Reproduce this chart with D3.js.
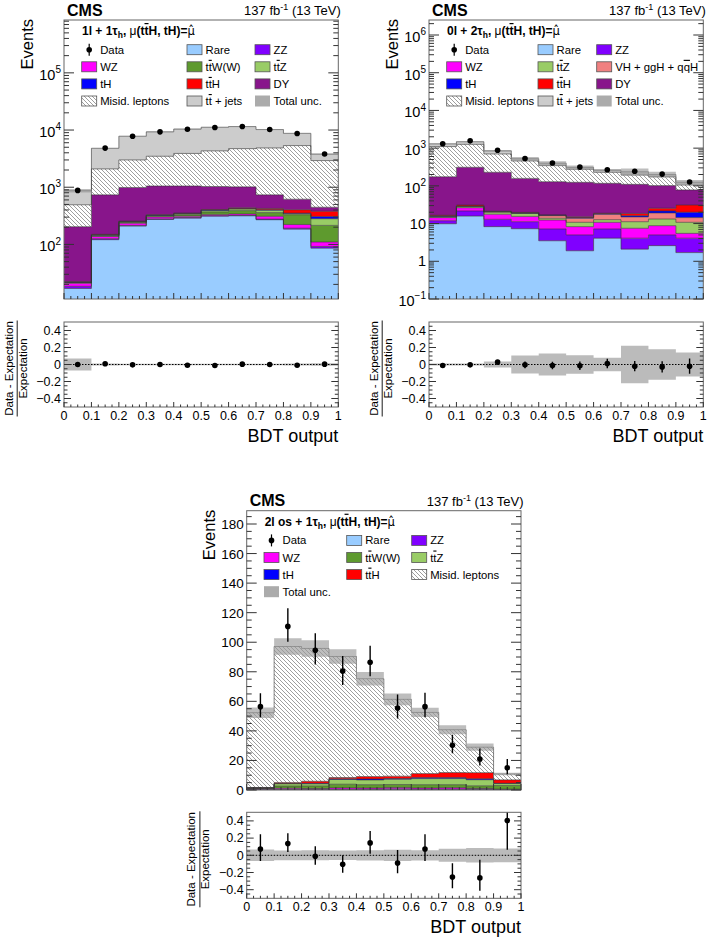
<!DOCTYPE html>
<html><head><meta charset="utf-8">
<script src="https://cdn.jsdelivr.net/npm/d3@7"></script>
<style>body{margin:0;background:#fff} text{font-family:"Liberation Sans",Arial,Helvetica,sans-serif}</style>
</head><body><svg id="c" width="709" height="939"></svg>
<script>
// ---------------- data ----------------
const binEdges = [0,0.1,0.2,0.3,0.4,0.5,0.6,0.7,0.8,0.9,1.0];
const xTickValues = [0,0.1,0.2,0.3,0.4,0.5,0.6,0.7,0.8,0.9,1];
const xTickLabels = ["0","0.1","0.2","0.3","0.4","0.5","0.6","0.7","0.8","0.9","1"];
const ratioTickValues = [-0.4,-0.2,0,0.2,0.4];
const ratioTickLabels = ["\u22120.4","\u22120.2","0","0.2","0.4"];
const linTickValuesC = [0,20,40,60,80,100,120,140,160,180];
const linTickLabelsC = ["0","20","40","60","80","100","120","140","160","180"];

// Panel A : 1l + 1tau_h
const a_rare   = [17, 121, 209, 273, 288, 312, 316, 270, 185, 86];
const a_zz     = [1.5, 5, 6, 7, 7, 6, 6, 7, 7, 6];
const a_wz     = [2.5, 12, 20, 20, 17, 17, 18, 33, 31, 18];
const a_ttw    = [0.5, 4, 8, 12, 18, 35, 50, 50, 107, 105];
const a_ttz    = [0.2, 3, 6, 8, 12, 22, 25, 35, 13, 66];
const a_th     = [0.3, 3, 3, 6, 6, 8, 10, 10, 9, 27];
const a_tth    = [0.2, 2, 3, 4, 4, 7, 12, 20, 51, 72];
const a_dy     = [182, 586, 735, 720, 698, 623, 579, 311, 214, 67];
const a_misid  = [289, 1354, 2010, 2430, 2850, 3290, 3714, 4124, 4733, 2478];
const a_ttjets = [377, 2710, 4800, 5820, 6500, 6880, 6770, 5340, 3400, 875];
const a_data   = [880, 4830, 7780, 9300, 10350, 11100, 11550, 10200, 8700, 3820];
const a_unc    = [0.07, 0.012, 0.01, 0.01, 0.01, 0.01, 0.01, 0.01, 0.012, 0.015];
const a_ratio  = [0, 0.008, -0.004, 0, -0.008, -0.012, 0.004, 0, -0.008, 0.004];
const a_ratioErr = [0.012, 0.006, 0.005, 0.004, 0.004, 0.004, 0.004, 0.004, 0.004, 0.008];

// Panel B : 0l + 2tau_h
const b_rare   = [9.9, 15.8, 8.3, 7.3, 3.5, 1.9, 4.1, 2.1, 2.6, 1.7];
const b_zz     = [2.0, 5.8, 4.7, 3.9, 3.7, 3.1, 3.1, 2.0, 2.4, 2.4];
const b_wz     = [2.5, 4.7, 4.7, 4.3, 5.2, 3.3, 3.6, 3.4, 3.8, 1.4];
const b_ttz    = [0.6, 1.7, 2.3, 3.1, 1.4, 2.5, 1.9, 3.7, 4.4, 5.3];
const b_vh     = [0.5, 0.6, 0.5, 0.3, 2.4, 3.0, 5.0, 3.8, 5.9, 3.6];
const b_th     = [0.5, 0.6, 0.5, 0.3, 0.5, 0.7, 0.5, 1.2, 2.5, 5.6];
const b_tth    = [0.6, 1.8, 0.2, 0.6, 0.2, 0.6, 0.6, 2.4, 3.9, 11];
const b_dy     = [158, 280, 208, 138, 112, 109, 98, 91, 76, 47];
const b_misid  = [925, 949, 471, 299, 215, 151, 112, 85, 74, 27];
const b_ttjets = [200, 220, 150, 68, 56, 35, 31, 42, 25, 20];
const b_data   = [1310, 1560, 880, 530, 405, 314, 268, 243, 205, 127];
const b_unc    = [0.012, 0.012, 0.035, 0.105, 0.13, 0.11, 0.08, 0.22, 0.18, 0.14];
const b_ratio  = [-0.012, -0.004, 0.028, -0.004, -0.012, -0.016, 0.012, -0.02, -0.028, -0.02];
const b_ratioErr = [0.008, 0.008, 0.015, 0.04, 0.045, 0.05, 0.055, 0.06, 0.065, 0.09];

// Panel C : 2l os + 1tau_h
const c_rare   = [0.3, 0.3, 0.3, 0.3, 0.3, 0.4, 0.3, 0.35, 0.3, 0.2];
const c_zz     = [0.2, 0.2, 0.2, 0.2, 0.3, 0.4, 0.3, 0.35, 0.3, 0.15];
const c_wz     = [0.5, 0.7, 0.5, 0.9, 0.7, 0.9, 0.7, 0.9, 0.45, 0.2];
const c_ttw    = [0.2, 1.5, 1.8, 2.5, 2.3, 2.0, 2.3, 2.0, 1.8, 2.5];
const c_ttz    = [0.2, 1.5, 1.4, 3.2, 3.2, 3.6, 4.1, 4.1, 4.1, 1.3];
const c_th     = [0.1, 0.2, 0.3, 0.45, 0.7, 0.45, 0.7, 0.7, 0.7, 0.2];
const c_tth    = [0.2, 0.6, 1.4, 0.9, 1.6, 1.6, 2.7, 3.4, 4.1, 2.3];
const c_misid  = [50.6, 92.1, 89.9, 81.9, 66.2, 52.0, 41.4, 29.0, 17.2, 4.0];
const c_data   = [56.4, 110.7, 94.5, 80.5, 86.4, 55.5, 56.4, 30.2, 21.0, 15.1];
const c_dataErrUp   = [9.0, 12.3, 11.5, 10.2, 11.2, 9.2, 9.4, 7.2, 7.0, 5.9];
const c_dataErrDown = [7.2, 10.4, 9.5, 9.5, 9.4, 7.2, 7.2, 5.4, 4.5, 4.5];
const c_unc    = [0.067, 0.057, 0.058, 0.055, 0.06, 0.065, 0.06, 0.075, 0.085, 0.08];
const c_ratio  = [0.074, 0.137, -0.011, -0.104, 0.144, -0.089, 0.074, -0.252, -0.263, 0.404];
const c_ratioErrUp   = [0.17, 0.12, 0.115, 0.105, 0.14, 0.15, 0.17, 0.16, 0.21, 0.5];
const c_ratioErrDown = [0.14, 0.10, 0.10, 0.10, 0.125, 0.12, 0.14, 0.13, 0.15, 0.34];

// ---------------- styles ----------------
const STYLE = {
  rare:  {color:"#99ccff", label:"Rare"},
  zz:    {color:"#8000ff", label:"ZZ"},
  wz:    {color:"#ff00ff", label:"WZ"},
  ttw:   {color:"#5e9a2e", label:"tt\u0304W(W)"},
  ttz:   {color:"#99cc66", label:"tt\u0304Z"},
  vh:    {color:"#f08080", label:"VH + ggH + qq\u0304H"},
  th:    {color:"#0000ff", label:"tH"},
  tth:   {color:"#ff0000", label:"tt\u0304H"},
  dy:    {color:"#88158b", label:"DY"},
  misid: {hatch:true, label:"Misid. leptons"},
  ttjets:{color:"#cccccc", label:"tt\u0304 + jets"},
  unc:   {color:"#aaaaaa", label:"Total unc."},
  data:  {label:"Data"}
};

const svg = d3.select("#c");
const defs = svg.append("defs");
const pat = defs.append("pattern").attr("id","hatch").attr("patternUnits","userSpaceOnUse").attr("width",4).attr("height",4);
pat.append("rect").attr("width",4).attr("height",4).attr("fill","#fff");
pat.append("path").attr("d","M-1,-1L5,5M3,-1L5,1M-1,3L1,5").attr("stroke","#7d7d7d").attr("stroke-width",0.75);

function richText(sel, label){
  const parts = label.split(/([a-z]\u0304)/);
  parts.forEach(p=>{
    if(!p) return;
    if(/^[a-z]\u0304$/.test(p)) sel.append("tspan").attr("text-decoration","overline").text(p[0]);
    else sel.append("tspan").text(p);
  });
}

const panels = [
 {id:"A", left:64, right:338.3, mainTop:20, mainBottom:299, ratioTop:322, ratioBottom:407,
  log:true, yDomain:[11.1, 8.4e5], chan:"1l + 1\u03c4",
  layers:[["rare",a_rare],["zz",a_zz],["wz",a_wz],["ttw",a_ttw],["ttz",a_ttz],["th",a_th],["tth",a_tth],["dy",a_dy],["misid",a_misid],["ttjets",a_ttjets]],
  data:a_data, unc:a_unc, ratio:a_ratio, rUp:a_ratioErr, rDn:a_ratioErr,
  legCols:[17.7,123,191],
  legend:[["data","rare","zz"],["wz","ttw","ttz"],["th","tth","dy"],["misid","ttjets","unc"]]},
 {id:"B", left:429, right:703.3, mainTop:20, mainBottom:299, ratioTop:322, ratioBottom:407,
  log:true, yDomain:[0.1, 2.5e6], chan:"0l + 2\u03c4",
  layers:[["rare",b_rare],["zz",b_zz],["wz",b_wz],["ttz",b_ttz],["vh",b_vh],["th",b_th],["tth",b_tth],["dy",b_dy],["misid",b_misid],["ttjets",b_ttjets]],
  data:b_data, unc:b_unc, ratio:b_ratio, rUp:b_ratioErr, rDn:b_ratioErr,
  legCols:[17.7,109,167.7],
  legend:[["data","rare","zz"],["wz","ttz","vh"],["th","tth","dy"],["misid","ttjets","unc"]]},
 {id:"C", left:246.7, right:521, mainTop:510.7, mainBottom:790, ratioTop:812.3, ratioBottom:898.3,
  log:false, yDomain:[0, 189], chan:"2l os + 1\u03c4",
  layers:[["rare",c_rare],["zz",c_zz],["wz",c_wz],["ttw",c_ttw],["ttz",c_ttz],["th",c_th],["tth",c_tth],["misid",c_misid]],
  data:c_data, dUp:c_dataErrUp, dDn:c_dataErrDown, unc:c_unc, ratio:c_ratio, rUp:c_ratioErrUp, rDn:c_ratioErrDown,
  legCols:[17.3,100,165],
  legend:[["data","rare","zz"],["wz","ttw","ttz"],["th","tth","misid"],["unc"]]}
];

function drawPanel(P){
  const g = svg.append("g");
  const nb = binEdges.length-1;
  const x = d3.scaleLinear().domain([0,1]).range([P.left,P.right]);
  const y = (P.log ? d3.scaleLog() : d3.scaleLinear()).domain(P.yDomain).range([P.mainBottom,P.mainTop]);
  const yv = v => P.log ? y(Math.max(v, P.yDomain[0]*0.5)) : y(v);
  const yr = d3.scaleLinear().domain([-0.5,0.5]).range([P.ratioBottom,P.ratioTop]);
  const W = P.right-P.left;
  defs.append("clipPath").attr("id","m"+P.id).append("rect").attr("x",P.left).attr("y",P.mainTop).attr("width",W).attr("height",P.mainBottom-P.mainTop);
  defs.append("clipPath").attr("id","r"+P.id).append("rect").attr("x",P.left).attr("y",P.ratioTop).attr("width",W).attr("height",P.ratioBottom-P.ratioTop);
  const idx = d3.range(nb+1);
  const bi = i => Math.min(i,nb-1);
  const plot = g.append("g").attr("clip-path",`url(#m${P.id})`);
  const cum = new Array(nb).fill(0);
  const tops = [];
  P.layers.forEach(([key,vals])=>{
    const st = STYLE[key];
    const lows = cum.slice();
    for(let i=0;i<nb;i++) cum[i]+=vals[i];
    const highs = cum.slice();
    const area = d3.area().curve(d3.curveStepAfter).x(i=>x(binEdges[i])).y0(i=>yv(lows[bi(i)])).y1(i=>yv(highs[bi(i)]));
    plot.append("path").attr("d",area(idx)).attr("fill", st.hatch ? "url(#hatch)" : st.color);
    tops.push(highs);
  });
  tops.forEach(h=>{
    const line = d3.line().curve(d3.curveStepAfter).x(i=>x(binEdges[i])).y(i=>yv(h[bi(i)]));
    plot.append("path").attr("d",line(idx)).attr("fill","none").attr("stroke","#333").attr("stroke-width",0.7).attr("stroke-opacity",0.85);
  });
  const total = cum.slice();
  const band = d3.area().curve(d3.curveStepAfter).x(i=>x(binEdges[i]))
    .y0(i=>yv(total[bi(i)]*(1-P.unc[bi(i)]))).y1(i=>yv(total[bi(i)]*(1+P.unc[bi(i)])));
  plot.append("path").attr("d",band(idx)).attr("fill","#9a9a9a").attr("fill-opacity",0.65);
  const centers = d3.range(nb).map(i=>(binEdges[i]+binEdges[i+1])/2);
  if(P.dUp){
    plot.append("g").selectAll("line").data(d3.range(nb)).join("line")
      .attr("x1",i=>x(centers[i])).attr("x2",i=>x(centers[i]))
      .attr("y1",i=>y(P.data[i]+P.dUp[i])).attr("y2",i=>y(P.data[i]-P.dDn[i]))
      .attr("stroke","#000").attr("stroke-width",1.4);
  }
  plot.append("g").selectAll("circle").data(d3.range(nb)).join("circle")
    .attr("cx",i=>x(centers[i])).attr("cy",i=>yv(P.data[i])).attr("r",2.8).attr("fill","#000");

  g.append("rect").attr("x",P.left).attr("y",P.mainTop).attr("width",W).attr("height",P.mainBottom-P.mainTop)
    .attr("fill","none").attr("stroke","#666").attr("stroke-width",1);
  const tk = g.append("g").attr("stroke","#333").attr("stroke-width",1);
  let yt = [];
  if(P.log){
    const lo=P.yDomain[0], hi=P.yDomain[1];
    for(let e=Math.floor(Math.log10(lo)); e<=Math.ceil(Math.log10(hi)); e++){
      for(let m=1;m<=9;m++){ const v=m*Math.pow(10,e); if(v>=lo*0.999 && v<=hi*1.001) yt.push({v, major:m===1, e}); }
    }
  } else {
    for(let v=0; v<=P.yDomain[1]; v+=5) yt.push({v, major: v%20===0});
  }
  yt.forEach(t=>{
    const yy=y(t.v), L=t.major?10:5;
    tk.append("line").attr("x1",P.left).attr("x2",P.left+L).attr("y1",yy).attr("y2",yy);
    tk.append("line").attr("x1",P.right).attr("x2",P.right-L).attr("y1",yy).attr("y2",yy);
  });
  if(P.log){
    yt.filter(t=>t.major).forEach(t=>{
      const yy=y(t.v);
      if(t.e===0 || t.e===1){
        g.append("text").attr("x",P.left-3).attr("y",yy+5).attr("text-anchor","end").attr("font-size",14.5).text(t.e===0?"1":"10");
      } else {
        const tx=g.append("text").attr("x",P.left-3).attr("y",yy+6.8).attr("text-anchor","end").attr("font-size",14.5);
        tx.append("tspan").text("10");
        tx.append("tspan").attr("dy",-6.7).attr("font-size",10).text(t.e<0?"\u2212"+(-t.e):String(t.e));
      }
    });
  } else {
    linTickValuesC.forEach((v,k)=>{
      g.append("text").attr("x",P.left-3).attr("y",y(v)+5).attr("text-anchor","end").attr("font-size",13.5).text(linTickLabelsC[k]);
    });
  }
  for(let k=0;k<=40;k++){
    const xx=x(k/40), L=(k%4===0)?6:3;
    tk.append("line").attr("x1",xx).attr("x2",xx).attr("y1",P.mainBottom).attr("y2",P.mainBottom-L);
  }
  g.append("text").attr("transform",`translate(${P.left-31.5},${P.mainTop-1}) rotate(-90)`)
    .attr("text-anchor","end").attr("font-size",16.5).text("Events");
  g.append("text").attr("x",P.left+3).attr("y",P.mainTop-4.5).attr("font-size",16).attr("font-weight","bold").text("CMS");
  const lt = g.append("text").attr("x",P.right+2.5).attr("y",P.mainTop-5).attr("text-anchor","end").attr("font-size",13);
  lt.append("tspan").text("137 fb");
  lt.append("tspan").attr("dy",-5).attr("font-size",9).text("-1");
  lt.append("tspan").attr("dy",5).text(" (13 TeV)");

  const hd = g.append("text").attr("x",P.left+18).attr("y",P.mainTop+15).attr("font-size",12).attr("font-weight","bold");
  hd.append("tspan").text(P.chan);
  hd.append("tspan").attr("dy",3).attr("font-size",8.5).text("h");
  hd.append("tspan").attr("dy",-3).text(",");
  hd.append("tspan").attr("font-weight","normal").text(" \u03bc");
  hd.append("tspan").text("(t");
  hd.append("tspan").attr("text-decoration","overline").text("t");
  hd.append("tspan").text("H, tH)=");
  hd.append("tspan").attr("font-weight","normal").attr("font-family","DejaVu Sans").attr("font-size",11.5).text("\u03bc\u0302");
  P.legend.forEach((row,r)=>{
    const cy = P.mainTop+29.7+r*17.1;
    row.forEach((key,c)=>{
      const bx = P.left+P.legCols[c];
      const st = STYLE[key];
      if(key==="data"){
        g.append("line").attr("x1",bx+7.5).attr("x2",bx+7.5).attr("y1",cy-6).attr("y2",cy+6).attr("stroke","#000").attr("stroke-width",1.2);
        g.append("circle").attr("cx",bx+7.5).attr("cy",cy).attr("r",2.8).attr("fill","#000");
      } else if(key==="unc"){
        g.append("rect").attr("x",bx).attr("y",cy-5.5).attr("width",15).attr("height",11).attr("fill","#ababab");
      } else {
        g.append("rect").attr("x",bx).attr("y",cy-5).attr("width",15).attr("height",10)
          .attr("fill", st.hatch?"url(#hatch)":st.color).attr("stroke","#555").attr("stroke-width",0.8);
      }
      const t = g.append("text").attr("x",bx+18.5).attr("y",cy+4).attr("font-size",11.3);
      richText(t, st.label);
    });
  });

  const rp = g.append("g").attr("clip-path",`url(#r${P.id})`);
  const rband = d3.area().curve(d3.curveStepAfter).x(i=>x(binEdges[i]))
    .y0(i=>yr(-P.unc[bi(i)])).y1(i=>yr(P.unc[bi(i)]));
  rp.append("path").attr("d",rband(idx)).attr("fill","#bbbbbb");
  rp.append("line").attr("x1",P.left).attr("x2",P.right).attr("y1",yr(0)).attr("y2",yr(0))
    .attr("stroke","#000").attr("stroke-width",1).attr("stroke-dasharray","1.5,1.5");
  rp.append("g").selectAll("line").data(d3.range(nb)).join("line")
    .attr("x1",i=>x(centers[i])).attr("x2",i=>x(centers[i]))
    .attr("y1",i=>yr(P.ratio[i]+P.rUp[i])).attr("y2",i=>yr(P.ratio[i]-P.rDn[i]))
    .attr("stroke","#000").attr("stroke-width",1.4);
  rp.append("g").selectAll("circle").data(d3.range(nb)).join("circle")
    .attr("cx",i=>x(centers[i])).attr("cy",i=>yr(P.ratio[i])).attr("r",2.8).attr("fill","#000");
  g.append("rect").attr("x",P.left).attr("y",P.ratioTop).attr("width",W).attr("height",P.ratioBottom-P.ratioTop)
    .attr("fill","none").attr("stroke","#666").attr("stroke-width",1);
  const rt = g.append("g").attr("stroke","#333").attr("stroke-width",1);
  for(let k=-10;k<=10;k++){
    const v=k*0.05; if(Math.abs(v)>0.49) continue;
    const yy=yr(v), L=(k%4===0)?7:3.5;
    rt.append("line").attr("x1",P.left).attr("x2",P.left+L).attr("y1",yy).attr("y2",yy);
    rt.append("line").attr("x1",P.right).attr("x2",P.right-L).attr("y1",yy).attr("y2",yy);
  }
  for(let k=0;k<=40;k++){
    const xx=x(k/40), L=(k%4===0)?5:2.5;
    rt.append("line").attr("x1",xx).attr("x2",xx).attr("y1",P.ratioBottom).attr("y2",P.ratioBottom-L);
  }
  ratioTickValues.forEach((v,k)=>{
    g.append("text").attr("x",P.left-3).attr("y",yr(v)+4.3).attr("text-anchor","end").attr("font-size",12.5).text(ratioTickLabels[k]);
  });
  xTickValues.forEach((v,k)=>{
    g.append("text").attr("x",x(v)).attr("y",P.ratioBottom+12.5).attr("text-anchor","middle").attr("font-size",12.5).text(xTickLabels[k]);
  });
  g.append("text").attr("x",P.right).attr("y",P.ratioBottom+35).attr("text-anchor","end").attr("font-size",18).text("BDT output");
  const rg = g.append("g").attr("transform",`translate(${P.left},${(P.ratioTop+P.ratioBottom)/2+4}) rotate(-90)`);
  rg.append("text").attr("x",0).attr("y",-51.5).attr("text-anchor","middle").attr("font-size",11.5).text("Data - Expectation");
  rg.append("line").attr("x1",-48).attr("x2",48).attr("y1",-46.8).attr("y2",-46.8).attr("stroke","#000").attr("stroke-width",0.9);
  rg.append("text").attr("x",0).attr("y",-37.5).attr("text-anchor","middle").attr("font-size",11.5).text("Expectation");
}

panels.forEach(drawPanel);
</script></body></html>
